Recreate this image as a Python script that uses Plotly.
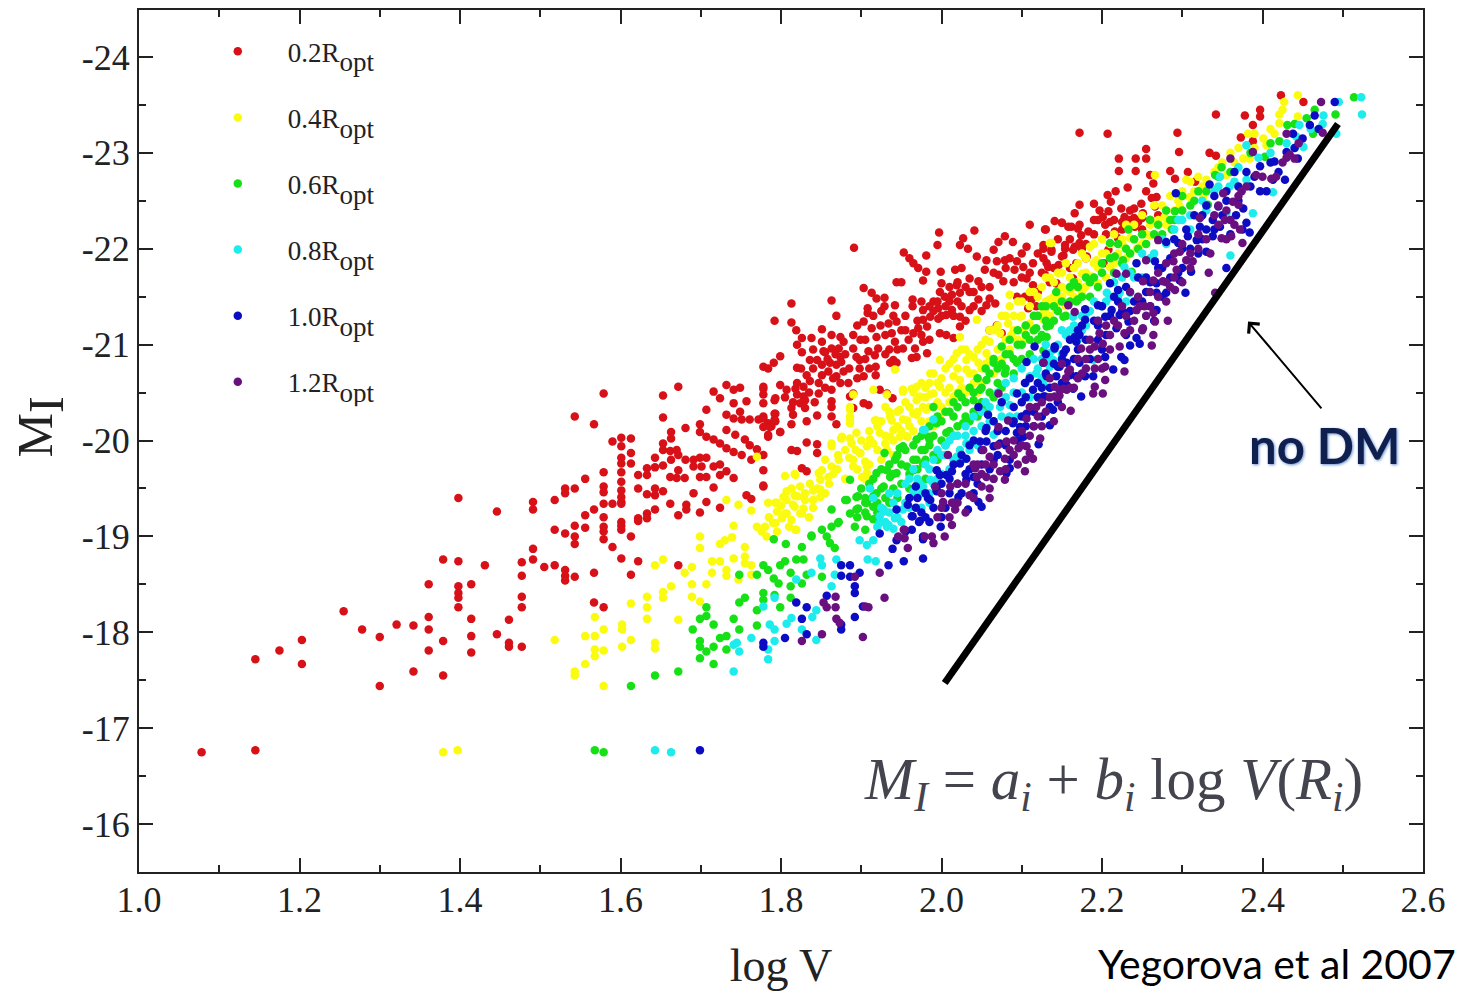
import plotly.graph_objects as go

red_points = [(1.078,-16.75),(1.145,-16.77),(1.145,-17.72),(1.175,-17.81),(1.203,-17.92),(1.203,-17.67),(1.255,-18.22),(1.278,-18.03),(1.300,-17.95),(1.300,-17.44),(1.321,-18.08),(1.342,-18.07),(1.342,-17.59),(1.361,-18.5),(1.361,-18.16),(1.361,-18.03),(1.361,-17.81),(1.379,-18.76),(1.379,-17.91),(1.379,-17.55),(1.398,-19.40),(1.398,-18.74),(1.398,-18.48),(1.398,-18.41),(1.398,-18.36),(1.398,-18.26),(1.414,-18.5),(1.414,-18.14),(1.414,-17.96),(1.414,-17.79),(1.431,-18.70),(1.446,-19.26),(1.446,-17.98),(1.461,-18.13),(1.461,-17.89),(1.461,-17.85),(1.477,-18.73),(1.477,-18.59),(1.477,-18.37),(1.477,-18.26),(1.477,-17.85),(1.491,-19.36),(1.491,-19.28),(1.491,-18.87),(1.491,-18.76),(1.505,-18.68),(1.518,-19.38),(1.518,-19.07),(1.518,-18.70),
(1.579,-20.49),(1.653,-20.47),(1.672,-20.56),(1.543,-20.25),(1.567,-20.17),(1.653,-20.24),(1.590,-19.99),(1.601,-20.03),(1.613,-20.02),(1.601,-19.94),(1.613,-19.87),(1.601,-19.82),(1.613,-19.76),(1.601,-19.76),(1.579,-19.67),(1.601,-19.67),(1.601,-19.57),(1.556,-19.6),(1.543,-19.50),(1.531,-19.5),(1.531,-19.45),(1.579,-19.52),(1.579,-19.46),(1.601,-19.48),(1.601,-19.41),(1.601,-19.36),(1.579,-19.34),(1.590,-19.34),(1.601,-19.34),(1.567,-19.28),(1.556,-19.22),(1.579,-19.20),(1.543,-19.11),(1.556,-19.09),(1.579,-19.10),(1.579,-19.05),(1.601,-19.15),(1.601,-19.11),(1.601,-19.07),(1.613,-19.0),(1.531,-19.03),(1.543,-19.0),(1.543,-18.92),(1.579,-18.97),(1.590,-18.89),(1.601,-18.77),(1.622,-18.74),(1.531,-18.65),(1.531,-18.59),(1.531,-18.54),(1.543,-18.58),(1.567,-18.62),(1.613,-18.60),(1.672,-18.70),(1.567,-18.31),(1.579,-18.26),
(1.622,-19.64),(1.633,-19.71),(1.633,-19.64),(1.643,-19.82),(1.643,-19.72),(1.653,-19.97),(1.653,-19.90),(1.653,-19.74),(1.663,-20.09),(1.663,-20.02),(1.662,-19.89),(1.670,-19.90),(1.663,-19.80),(1.672,-19.85),(1.681,-20.13),(1.699,-20.17),(1.707,-20.32),(1.716,-20.51),(1.724,-20.44),(1.732,-20.58),(1.741,-20.53),(1.749,-20.55),(1.741,-20.39),(1.757,-20.41),(1.749,-20.30),(1.732,-20.27),(1.741,-20.23),(1.751,-20.22),(1.761,-20.22),(1.772,-20.22),(1.784,-20.18),(1.699,-20.09),(1.707,-20.04),(1.716,-20.01),(1.724,-19.97),(1.732,-19.92),(1.741,-19.88),(1.751,-19.85),(1.763,-19.80),(1.732,-20.11),(1.743,-20.06),(1.755,-20.01),(1.761,-19.95),(1.770,-19.91),(1.681,-19.80),(1.691,-19.80),(1.699,-19.82),(1.707,-19.82),(1.691,-19.73),(1.701,-19.73),(1.716,-19.73),(1.724,-19.75),(1.732,-19.68),(1.741,-19.61),(1.672,-19.69),(1.662,-19.62),(1.670,-19.61),(1.680,-19.61),(1.699,-19.62),(1.707,-19.62),(1.724,-19.64),(1.622,-19.50),(1.633,-19.44),(1.643,-19.50),(1.643,-19.43),(1.653,-19.47),(1.691,-19.45),(1.716,-19.51),(1.662,-19.34),(1.682,-19.33),(1.682,-19.28),(1.672,-19.22),(1.643,-19.28),(1.633,-19.24),(1.633,-19.19),(1.622,-19.19),(1.622,-19.16),(1.699,-19.25),(1.707,-19.36),(1.724,-19.30),(1.757,-19.43),(1.763,-19.39),(1.778,-19.69),(1.778,-19.52),(1.778,-19.85),(1.778,-20.54),(1.778,-20.48),(1.778,-20.39),(1.792,-20.42),(1.792,-20.28),(1.792,-20.22),(1.784,-20.06),(1.799,-20.09),(1.788,-20.15),(1.778,-20.25),
(1.891,-22.01),(1.813,-21.43),(1.792,-21.25),(1.813,-21.23),(1.819,-21.15),(1.863,-21.46),(1.869,-21.30),(1.851,-21.16),(1.826,-21.07),(1.838,-21.07),(1.820,-21.0),(1.826,-20.92),(1.799,-20.88),(1.851,-21.03),(1.863,-21.10),(1.874,-21.08),(1.878,-21.03),(1.863,-20.96),(1.872,-20.96),(1.853,-20.93),(1.874,-20.87),(1.836,-20.84),(1.845,-20.84),(1.851,-20.79),(1.861,-20.81),(1.869,-20.79),(1.820,-20.76),(1.832,-20.68),(1.851,-20.68),(1.859,-20.72),(1.869,-20.67),(1.878,-20.72),(1.884,-20.60),(1.874,-20.60),(1.863,-20.53),(1.847,-20.60),(1.847,-20.49),(1.778,-20.77),(1.784,-20.75),(1.791,-20.81),(1.799,-20.58),(1.807,-20.53),(1.818,-20.54),(1.828,-20.56),(1.820,-20.48),(1.828,-20.46),(1.824,-20.39),(1.813,-20.34),(1.830,-20.34),(1.815,-20.27),(1.845,-20.26),(1.832,-20.20),(1.813,-20.17),(1.863,-20.41),(1.863,-20.35),(1.863,-20.25),(1.869,-20.17),(1.793,-20.44),(1.793,-20.28),(1.793,-20.20),(1.778,-20.56),(1.778,-20.23),(1.778,-20.14),(1.784,-20.04),(1.799,-20.09),(1.786,-20.14),(1.832,-19.98),(1.845,-19.96),(1.813,-19.90),(1.820,-19.89),(1.845,-19.87),(1.826,-19.71),(1.832,-19.68),(1.778,-19.53),
(1.903,-21.59),(1.913,-21.54),(1.919,-21.48),(1.929,-21.49),(1.929,-21.40),(1.942,-21.41),(1.908,-21.38),(1.908,-21.33),(1.903,-21.24),(1.913,-21.17),(1.924,-21.20),(1.934,-21.22),(1.944,-21.24),(1.919,-21.08),(1.930,-21.10),(1.938,-21.12),(1.942,-21.03),(1.899,-21.05),(1.890,-20.96),(1.894,-20.87),(1.905,-21.05),(1.909,-20.93),(1.921,-20.96),(1.917,-20.89),(1.898,-20.84),(1.898,-20.75),(1.903,-20.67),(1.918,-20.77),(1.918,-20.68),(1.940,-20.84),(1.936,-20.81),(1.944,-20.81),(1.923,-20.53),(1.932,-20.49),(1.939,-20.44),(1.903,-20.39),(1.909,-20.37),(1.890,-20.34),(1.886,-20.46),(1.890,-20.49),
(1.953,-21.96),(1.960,-21.90),(1.965,-21.85),(1.971,-21.80),(1.981,-21.76),(1.977,-21.67),(1.981,-21.93),(1.944,-21.65),(1.950,-21.65),(1.964,-21.47),(1.964,-21.40),(1.977,-21.36),(1.977,-21.26),(1.986,-21.29),(1.982,-21.19),(1.971,-21.17),(1.965,-21.12),(1.959,-21.05),(1.952,-20.96),(1.967,-20.96),(1.977,-21.03),(1.969,-20.87),(1.982,-20.91),(1.963,-20.86),
(1.997,-22.17),(1.995,-22.04),(1.999,-21.76),(2.000,-21.64),(2.017,-21.78),(2.025,-21.80),(2.023,-22.04),(2.027,-22.11),(2.033,-22.0),(2.041,-22.19),(2.044,-21.92),(2.035,-21.69),(2.046,-21.66),(1.990,-21.45),(1.998,-21.55),(2.004,-21.50),(2.019,-21.62),(2.023,-21.54),(2.035,-21.55),(2.046,-21.47),(2.013,-21.52),(1.996,-21.38),(2.013,-21.36),(2.035,-21.36),(2.023,-21.29),(1.996,-21.27),(2.006,-21.31),(1.998,-21.12),(2.006,-21.10),(2.015,-21.07),(2.023,-21.19),(2.060,-21.48),(2.067,-21.43),(2.056,-21.41),(2.060,-21.15),(2.069,-21.20),(2.075,-21.12),
(2.056,-21.88),(2.054,-21.78),(2.065,-21.99),(2.071,-22.07),(2.079,-22.13),(2.089,-22.07),(2.069,-21.87),(2.079,-21.88),(2.071,-21.73),(2.077,-21.66),(2.091,-21.78),(2.094,-21.87),(2.102,-21.81),(2.106,-22.02),(2.114,-21.85),(2.106,-21.69),(2.114,-21.62),(2.094,-21.50),(2.104,-21.50),(2.112,-21.47),(2.108,-21.38),(2.118,-21.40),(2.110,-22.25),(2.130,-22.20),(2.127,-22.0),(2.137,-21.97),(2.154,-22.0),(2.166,-22.02),(2.150,-21.92),(2.143,-21.64),(2.131,-21.85),(2.150,-22.27),(2.162,-22.23),(2.170,-22.21),
(2.172,-23.21),(2.207,-23.20),(2.294,-23.21),(2.342,-23.40),(2.378,-23.39),(2.397,-23.45),(2.397,-23.38),(2.423,-23.60),(2.451,-23.53),(2.388,-23.29),(2.373,-23.16),(2.388,-23.12),(2.255,-23.04),(2.255,-22.94),(2.242,-22.94),(2.221,-22.94),(2.221,-22.81),(2.242,-22.81),(2.296,-23.01),(2.334,-23.0),(2.342,-22.97),(2.285,-22.81),(2.291,-22.73),(2.307,-22.80),(2.260,-22.77),(2.264,-22.68),(2.316,-22.70),(2.232,-22.64),(2.217,-22.60),(2.207,-22.56),(2.255,-22.60),(2.268,-22.54),(2.172,-22.46),(2.166,-22.37),(2.190,-22.47),(2.197,-22.40),(2.211,-22.49),(2.208,-22.39),(2.201,-22.33),(2.204,-22.25),(2.224,-22.42),(2.240,-22.42),(2.249,-22.47),(2.262,-22.53),(2.266,-22.44),(2.251,-22.37),(2.228,-22.33),(2.235,-22.30),(2.245,-22.28),(2.231,-22.25),(2.241,-22.23),(2.216,-22.18),(2.220,-22.11),(2.141,-22.29),(2.150,-22.27),(2.158,-22.23),(2.172,-22.25),(2.183,-22.18),(2.174,-22.14),(2.172,-22.06),(2.164,-21.99),(2.129,-22.20),(2.154,-22.04),(2.127,-22.04),(2.137,-21.99),(2.152,-21.93),(2.127,-21.90),(2.146,-21.83),(2.181,-21.92),(2.208,-21.99),(2.168,-21.85),(2.133,-21.81),(2.129,-21.73),(2.143,-21.64),(2.164,-21.69),(2.202,-21.85),
(1.805,-20.45),(1.815,-20.4),(1.82,-20.6),(1.825,-20.75),(1.835,-20.5),(1.84,-20.75),(1.84,-20.95),(1.855,-20.55),(1.858,-20.85),(1.865,-20.65),(1.88,-20.9),(1.89,-21.1),(1.895,-21.2),(1.91,-20.75),(1.93,-20.9),(1.945,-20.95),(1.95,-21.15),(1.955,-21.3),(1.975,-21.1),(1.985,-21.05),(1.99,-21.35),(2.0,-21.3),(2.01,-21.45),(2.02,-21.45),(2.03,-21.6),(2.04,-21.4),(2.05,-21.6),(2.08,-21.8),(2.09,-21.65),(2.1,-21.7),(2.12,-21.55),(2.125,-21.75),(2.135,-21.65),(2.14,-21.8),(2.145,-22.1),(2.16,-22.1),(2.175,-22.0),(2.18,-21.9),(2.19,-22.15),(2.195,-22.3),(2.205,-22.15),(2.215,-22.3),(2.225,-22.2),(2.235,-22.4),(2.25,-22.2),(2.26,-22.3),(2.27,-22.35),
(1.83,-20.42),(1.836,-20.62),(1.842,-20.4),(1.855,-20.92),(1.868,-20.9),(1.875,-20.82),(1.885,-20.75),(1.895,-20.65),(1.905,-20.85),(1.915,-21.3),(1.925,-21.35),(1.935,-20.95),(1.94,-21.3),(1.955,-21.15),(1.97,-21.25),(1.975,-21.45),(1.985,-21.4),(1.995,-21.45),(2.005,-21.4),(2.01,-21.6),(2.015,-21.3),(2.02,-21.65),(2.025,-21.4),(2.03,-21.25),(2.04,-21.55),(2.05,-21.35),(2.06,-21.6),(2.065,-21.75),(2.085,-21.9),(2.1,-21.95),(2.11,-21.75),(2.12,-21.95),(2.16,-21.8),(2.18,-22.05),(2.19,-22.3),(2.21,-22.28),(2.225,-22.28),(2.24,-22.32),(2.25,-22.32)]

yellow_points = [(1.379,-16.75),(1.397,-16.77),(1.518,-17.92),(1.543,-17.59),(1.543,-17.55),(1.556,-17.67),(1.579,-17.44),(1.568,-18.16),(1.579,-18.03),(1.556,-17.96),(1.568,-17.96),(1.568,-17.82),(1.568,-17.75),(1.579,-17.81),(1.602,-18.08),(1.602,-18.03),(1.602,-17.85),(1.613,-17.92),(1.613,-18.30),(1.633,-18.37),(1.633,-18.26),(1.633,-18.14),(1.643,-17.89),(1.643,-17.83),(1.653,-18.42),(1.653,-18.36),(1.663,-18.48),(1.672,-18.13),(1.643,-18.70),(1.653,-18.76),(1.680,-18.62),(1.689,-18.68),(1.689,-18.50),(1.689,-18.37),(1.699,-18.32),(1.707,-18.50),(1.714,-18.62),(1.714,-18.74),(1.724,-18.74),(1.732,-18.65),(1.732,-18.59),(1.741,-18.77),(1.747,-18.55),(1.699,-19.0),(1.699,-18.88),(1.724,-18.92),(1.730,-18.96),(1.739,-18.99),(1.741,-19.11),(1.755,-18.89),(1.755,-18.79),(1.755,-18.72),(1.763,-18.70),(1.763,-18.60),(1.732,-19.38),(1.747,-19.33),(1.763,-19.27),(1.770,-19.83),(1.805,-19.63),(1.817,-19.65),(1.819,-19.07),
(1.770,-19.10),(1.776,-19.05),(1.782,-19.0),(1.780,-19.10),(1.790,-19.14),(1.801,-19.19),(1.807,-19.24),(1.795,-19.26),(1.784,-19.35),(1.795,-19.35),(1.807,-19.38),(1.817,-19.43),(1.830,-19.45),(1.807,-19.47),(1.817,-19.31),(1.828,-19.29),(1.813,-19.17),(1.826,-19.24),(1.836,-19.55),(1.849,-19.59),(1.859,-19.62),(1.849,-19.49),(1.840,-19.38),(1.851,-19.69),(1.863,-19.73),(1.855,-19.80),(1.863,-19.94),(1.875,-20.02),(1.871,-19.85),(1.888,-19.97),(1.898,-19.87),(1.890,-19.73),(1.905,-19.78),(1.907,-19.66),(1.915,-19.97),(1.932,-19.90),(1.923,-20.08),(1.940,-20.11),(1.952,-20.22),(1.936,-20.25),(1.948,-20.32),(1.969,-20.42),(1.977,-20.35),(1.958,-20.04),(1.990,-20.49),(1.985,-20.60),(1.886,-20.32),(1.886,-20.22),(1.890,-20.48),(1.915,-20.53),(1.952,-20.51),(1.932,-20.48),(1.965,-20.28),
(1.818,-19.64),(1.793,-19.35),(1.803,-19.41),(1.813,-19.50),(1.824,-19.52),(1.828,-19.41),(1.805,-19.24),(1.824,-19.24),(1.793,-19.14),(1.818,-19.07),(1.840,-19.48),(1.849,-19.41),(1.847,-19.66),(1.872,-19.80),(1.863,-19.97),(1.876,-20.04),(1.886,-20.02),(1.894,-20.08),(1.911,-20.01),(1.899,-19.87),(1.907,-19.94),(1.890,-19.80),(1.907,-19.73),(1.901,-19.62),(1.886,-20.25),(1.886,-20.35),(1.886,-20.18),(1.919,-20.21),(1.930,-20.35),(1.938,-20.21),(1.946,-20.14),(1.936,-20.04),(1.948,-20.04),(1.930,-19.97),(1.957,-20.21),(1.969,-20.27),(1.981,-20.32),(1.998,-20.25),(1.973,-20.46),(1.986,-20.48),(1.998,-20.56),(1.969,-20.56),(1.952,-20.53),(1.963,-20.54),(2.015,-20.46),(2.023,-20.63),(2.031,-20.74),(2.015,-20.67),(2.044,-20.63),(2.046,-20.81),(2.040,-20.87),(2.056,-20.91),(2.031,-20.84),(2.019,-20.91),(1.998,-20.84),(1.986,-20.70),(2.023,-21.08),(2.044,-21.26),(2.060,-21.03),(2.073,-21.12),(2.083,-21.22),(2.098,-21.29),(2.087,-21.10),(2.102,-21.15),(2.110,-21.22),(2.085,-21.52),(2.135,-21.43),(2.143,-21.38),(2.127,-21.33),(2.156,-21.57),(2.168,-21.60),(2.135,-22.06),(1.942,-20.74),(1.917,-20.21),
(2.444,-23.60),(2.427,-23.53),(2.421,-23.40),(2.421,-23.31),(2.444,-23.38),(2.382,-23.20),(2.401,-23.15),(2.405,-23.08),(2.376,-22.94),(2.384,-22.94),(2.266,-22.77),(2.330,-22.72),(2.355,-22.77),(2.305,-22.72),(2.326,-22.54),(2.309,-22.54),(2.297,-22.44),(2.278,-22.33),(2.266,-22.27),(2.260,-22.14),(2.235,-22.11),(2.243,-22.0),(2.226,-22.04),(2.210,-21.81),(2.185,-22.02),(2.193,-21.88),(2.187,-21.71),(2.175,-21.74),(2.195,-21.64),(2.150,-21.50),(2.135,-21.47),(2.143,-21.36),(2.129,-21.36),(2.154,-21.43),(2.137,-22.06),(2.127,-21.26),(2.179,-21.60),
(1.785,-19.2),(1.795,-19.05),(1.80,-19.32),(1.81,-19.1),(1.815,-19.33),(1.82,-19.42),(1.83,-19.38),(1.835,-19.2),(1.84,-19.3),(1.845,-19.5),(1.855,-19.45),(1.86,-19.55),(1.865,-19.65),(1.87,-19.7),(1.88,-19.6),(1.88,-19.9),(1.885,-19.82),(1.893,-19.9),(1.895,-19.7),(1.90,-20.0),(1.905,-19.6),(1.91,-20.1),(1.92,-19.9),(1.925,-20.2),(1.93,-20.05),(1.94,-20.0),(1.945,-20.3),(1.95,-20.1),(1.955,-20.4),(1.96,-20.15),(1.965,-20.5),(1.97,-20.3),(1.975,-20.6),(1.98,-20.45),(1.985,-20.2),(1.99,-20.7),(1.995,-20.4),(2.0,-20.65),(2.005,-20.5),(2.01,-20.8),(2.01,-20.55),(2.02,-20.75),(2.025,-20.55),(2.03,-20.95),(2.035,-20.7),(2.04,-20.6),(2.045,-20.95),(2.05,-20.75),(2.055,-21.05),(2.06,-20.85),(2.065,-21.15),(2.07,-20.95),(2.075,-21.3),(2.08,-21.05),(2.085,-21.4),(2.09,-21.15),(2.095,-21.45),(2.10,-21.3),(2.105,-21.05),(2.11,-21.4),(2.115,-21.55),(2.12,-21.3),(2.125,-21.6),(2.13,-21.45),(2.135,-21.7),(2.14,-21.5),(2.145,-21.75),(2.15,-21.6),(2.155,-21.85),(2.16,-21.55),(2.165,-21.8),(2.17,-21.65),(2.175,-21.95),(2.18,-21.75),(2.19,-22.05),(2.195,-21.8),(2.2,-22.1),(2.205,-21.95),(2.215,-22.15),(2.22,-21.95),(2.23,-22.25),(2.24,-22.1),(2.25,-22.35),(2.255,-22.15),(2.265,-22.45),(2.27,-22.3),(2.285,-22.55),(2.29,-22.4),(2.30,-22.6),(2.315,-22.6),(2.32,-22.75),(2.34,-22.8),(2.35,-22.9),(2.365,-22.9),(2.39,-23.05),(2.39,-23.2),(2.41,-23.25),(2.415,-23.2),(2.425,-23.45),
(1.91,-19.75),(1.92,-20.15),(1.925,-19.8),(1.935,-20.3),(1.94,-19.85),(1.945,-20.15),(1.955,-20.05),(1.96,-20.35),(1.965,-20.1),(1.975,-20.2),(1.98,-20.55),(1.985,-20.35),(1.99,-20.15),(1.995,-20.6),(2.0,-20.35),(2.005,-20.75),(2.01,-20.4),(2.015,-20.85),(2.02,-20.5),(2.025,-20.95),(2.03,-20.5),(2.035,-20.9),(2.04,-20.7),(2.045,-20.5),(2.05,-21.0),(2.05,-20.6),(2.055,-20.8),(2.06,-21.15),(2.065,-20.7),(2.07,-21.2),(2.075,-20.85),(2.08,-21.3),(2.085,-20.95),(2.09,-21.3),(2.095,-21.05),(2.10,-21.45),(2.105,-21.2),(2.11,-21.55),(2.115,-21.15),(2.12,-21.5),(2.125,-21.3),(2.13,-21.7),(2.135,-21.3),(2.14,-21.65),(2.145,-21.45),(2.15,-21.75),(2.155,-21.4),(2.16,-21.7),(2.165,-21.5),(2.17,-21.85),(2.175,-21.55),(2.18,-21.9),(2.185,-21.65),(2.19,-21.85),(2.2,-21.95),(2.205,-21.7),(2.21,-22.05),(2.215,-21.85),(2.225,-22.1),(2.23,-21.9),(2.24,-22.25),(2.25,-22.05),(2.26,-22.25),(2.275,-22.45),(2.28,-22.25),(2.295,-22.5),(2.31,-22.7),(2.325,-22.65),(2.335,-22.65),(2.345,-22.85),(2.36,-23.0),(2.37,-23.05)]

green_points = [(1.568,-16.77),(1.579,-16.75),(1.613,-17.44),(1.643,-17.55),(1.672,-17.59),(1.707,-18.26),(1.699,-18.14),(1.707,-18.17),(1.690,-18.03),(1.716,-18.08),(1.699,-17.91),(1.699,-17.85),(1.699,-17.73),(1.707,-17.80),(1.716,-17.85),(1.716,-17.67),(1.724,-17.94),(1.732,-17.96),(1.732,-17.82),(1.741,-18.14),(1.748,-18.03),(1.748,-18.31),(1.755,-18.36),(1.748,-18.60),(1.770,-18.60),(1.778,-18.41),(1.778,-18.34),(1.770,-18.23),(1.770,-18.07),(1.799,-18.26),(1.792,-18.39),(1.778,-18.70),(1.784,-18.65),(1.791,-18.56),(1.797,-18.51),(1.799,-18.70),(1.805,-18.74),(1.812,-18.62),(1.812,-18.48),(1.812,-18.36),(1.826,-18.51),(1.819,-18.76),(1.828,-18.76),(1.832,-18.60),(1.851,-18.58),(1.826,-18.89),(1.806,-18.92),(1.791,-18.97),(1.838,-19.0),(1.851,-19.07),(1.857,-19.0),(1.861,-18.93),(1.867,-18.88),(1.863,-19.28),(1.863,-19.10),(1.871,-19.14),(1.886,-19.59),(1.882,-19.38),(1.892,-19.10),(1.905,-19.07),(1.886,-19.24),(1.896,-19.42),(1.896,-19.29),(1.907,-19.35),(1.915,-19.42),(1.907,-19.21),(1.919,-19.66),(1.929,-19.87),(1.944,-19.83),(1.952,-19.94),(1.932,-19.69),(1.944,-19.66),(1.969,-19.80),(1.979,-19.90),(1.990,-20.35),(1.965,-19.69),(1.985,-20.01),
(1.838,-19.01),(1.872,-19.15),(1.880,-19.38),(1.894,-19.41),(1.894,-19.28),(1.905,-19.35),(1.915,-19.31),(1.936,-19.62),(1.942,-19.80),(1.948,-19.92),(1.957,-19.73),(1.969,-20.01),(1.977,-19.76),(1.984,-20.04),(1.994,-20.18),(2.006,-20.08),(2.015,-20.25),(2.021,-20.49),(2.027,-20.18),(2.040,-20.42),(2.048,-20.53),(2.056,-20.63),(2.065,-20.81),(2.075,-20.98),(2.079,-20.70),(2.094,-20.81),(2.118,-21.17),(2.131,-21.08),(2.143,-21.55),(2.168,-21.45),(1.919,-19.45),(1.928,-19.52),
(2.514,-23.58),(2.491,-23.40),(2.465,-23.45),(2.455,-23.36),(2.463,-23.20),(2.431,-23.29),(2.421,-23.12),(2.403,-22.96),(2.349,-22.85),(2.341,-22.77),(2.233,-22.20),(2.210,-22.06),(2.291,-22.39),(2.287,-22.20),(2.332,-22.46),(2.226,-21.88),(2.237,-21.76),(2.170,-21.47),(2.185,-21.50),(2.131,-21.19),(2.152,-21.29),(2.125,-21.08),(2.127,-20.94),(2.216,-21.92),
(1.895,-19.2),(1.9,-19.5),(1.905,-19.25),(1.91,-19.55),(1.915,-19.18),(1.92,-19.35),(1.925,-19.7),(1.93,-19.4),(1.935,-19.75),(1.94,-19.5),(1.945,-19.85),(1.95,-19.55),(1.955,-19.9),(1.96,-19.65),(1.965,-19.95),(1.97,-19.7),(1.975,-20.05),(1.98,-19.8),(1.985,-20.15),(1.99,-19.85),(1.995,-20.25),(2.0,-20.0),(2.005,-20.3),(2.01,-20.1),(2.015,-20.4),(2.02,-20.15),(2.025,-20.45),(2.03,-20.25),(2.035,-20.55),(2.04,-20.3),(2.045,-20.65),(2.05,-20.4),(2.055,-20.75),(2.06,-20.5),(2.065,-20.85),(2.07,-20.6),(2.075,-20.8),(2.08,-20.9),(2.085,-21.05),(2.09,-20.85),(2.095,-21.15),(2.1,-21.0),(2.105,-21.2),(2.11,-21.05),(2.115,-21.3),(2.12,-21.05),(2.125,-21.4),(2.13,-21.25),(2.14,-21.4),(2.15,-21.45),(2.16,-21.6),(2.17,-21.6),(2.18,-21.7),(2.19,-21.7),(2.2,-21.85),(2.21,-21.9),(2.22,-22.05),(2.23,-22.0),(2.24,-22.1),(2.25,-22.15),(2.26,-22.3),(2.27,-22.25),(2.28,-22.4),(2.29,-22.3),(2.30,-22.55),(2.31,-22.45),(2.32,-22.6),(2.33,-22.6),(2.345,-22.75),(2.36,-22.8),(2.385,-23.0),(2.41,-23.1),(2.44,-23.3),
(1.905,-19.4),(1.915,-19.6),(1.92,-19.25),(1.925,-19.5),(1.935,-19.35),(1.94,-19.65),(1.945,-19.4),(1.95,-19.75),(1.96,-19.5),(1.965,-19.8),(1.97,-19.55),(1.975,-19.9),(1.98,-19.6),(1.985,-19.95),(1.99,-20.05),(1.995,-19.8),(2.0,-20.2),(2.005,-19.95),(2.01,-20.3),(2.015,-20.05),(2.02,-20.35),(2.03,-20.4),(2.035,-20.2),(2.04,-20.5),(2.045,-20.25),(2.05,-20.55),(2.055,-20.35),(2.06,-20.7),(2.065,-20.45),(2.07,-20.75),(2.075,-20.55),(2.08,-20.75),(2.085,-20.9),(2.09,-20.7),(2.095,-21.0),(2.1,-20.85),(2.105,-21.1),(2.11,-20.9),(2.115,-21.15),(2.12,-21.3),(2.125,-21.1),(2.13,-21.4),(2.135,-21.2),(2.14,-21.25),(2.145,-21.35),(2.155,-21.3),(2.16,-21.45),(2.165,-21.65),(2.175,-21.5),(2.185,-21.65),(2.195,-21.6),(2.2,-21.75),(2.215,-21.75),(2.225,-21.85),(2.235,-21.95),(2.245,-22.0),(2.255,-22.05),(2.265,-22.15),(2.275,-22.15),(2.285,-22.3),(2.30,-22.4),(2.315,-22.5)]

cyan_points = [(1.643,-16.77),(1.663,-16.75),(1.741,-17.59),(1.745,-17.89),(1.748,-17.80),(1.741,-17.87),(1.763,-17.94),(1.792,-17.91),(1.784,-17.82),(1.784,-17.72),(1.786,-18.08),(1.792,-18.03),(1.778,-18.27),(1.792,-18.36),(1.807,-18.09),(1.813,-18.15),(1.826,-18.03),(1.839,-18.16),(1.844,-18.23),(1.844,-17.92),(1.819,-18.55),(1.838,-18.62),(1.849,-18.77),(1.851,-18.70),(1.863,-18.48),(1.869,-18.76),(1.867,-18.60),(1.898,-18.96),(1.907,-18.91),(1.915,-18.96),(1.908,-18.76),(1.918,-18.74),(1.923,-19.14),(1.923,-19.21),(1.932,-19.10),(1.929,-19.26),(1.942,-19.19),(1.911,-19.50),(1.952,-19.28),(1.965,-19.47),(1.973,-19.55),(1.979,-20.11),(1.990,-20.22),(1.985,-19.35),
(1.934,-19.12),(1.940,-19.08),(1.928,-19.28),(1.969,-19.41),(1.977,-19.52),(1.977,-20.11),(1.986,-19.59),(2.023,-19.90),(2.031,-19.97),(2.019,-19.83),(2.065,-20.06),(2.073,-20.35),(2.085,-20.37),(2.094,-20.25),(2.110,-20.67),(2.118,-20.70),(2.139,-20.84),(2.135,-20.77),(2.164,-21.29),
(2.523,-23.58),(2.524,-23.40),(2.495,-23.53),(2.476,-23.39),(2.492,-23.20),(2.446,-23.29),(2.451,-23.06),(2.442,-23.17),(2.413,-22.59),(2.388,-22.37),(2.360,-21.93),(2.380,-23.08),(2.380,-22.72),(2.359,-22.65),(2.347,-22.75),(2.228,-21.81),(2.222,-21.54),(2.235,-21.54),(2.206,-21.54),(2.355,-22.37),(2.189,-20.84),(2.181,-21.33),(2.135,-20.91),(2.127,-20.60),(2.168,-21.15),
(1.915,-19.4),(1.92,-19.1),(1.925,-19.3),(1.935,-19.25),(1.94,-19.35),(1.945,-19.45),(1.95,-19.15),(1.955,-19.35),(1.96,-19.6),(1.965,-19.7),(1.975,-19.45),(1.98,-19.75),(1.985,-19.45),(1.99,-19.8),(1.995,-19.6),(2.0,-19.85),(2.005,-19.85),(2.01,-20.0),(2.015,-19.8),(2.02,-20.05),(2.03,-20.15),(2.035,-19.9),(2.04,-20.25),(2.05,-20.15),(2.055,-20.4),(2.06,-20.2),(2.07,-20.5),(2.08,-20.6),(2.09,-20.5),(2.10,-20.75),(2.105,-20.6),(2.115,-20.85),(2.125,-20.85),(2.13,-21.0),(2.145,-21.0),(2.15,-21.15),(2.155,-21.1),(2.165,-21.2),(2.175,-21.3),(2.18,-21.2),(2.19,-21.45),(2.2,-21.4),(2.21,-21.5),(2.215,-21.65),(2.225,-21.7),(2.24,-21.7),(2.25,-21.95),(2.26,-21.9),(2.275,-22.1),(2.29,-22.2),(2.30,-22.3),(2.31,-22.35),(2.325,-22.5),(2.34,-22.6),(2.365,-22.7),(2.37,-22.85),(2.395,-22.95),(2.41,-23.0),(2.43,-23.1),(2.44,-23.05),(2.46,-23.25),(2.475,-23.3),
(1.93,-19.15),(1.935,-19.45),(1.945,-19.2),(1.955,-19.55),(1.96,-19.3),(1.97,-19.6),(1.975,-19.3),(1.985,-19.7),(1.99,-19.55),(1.995,-19.9),(2.0,-19.65),(2.005,-19.95),(2.01,-19.7),(2.015,-20.05),(2.025,-19.8),(2.03,-20.05),(2.04,-20.1),(2.045,-19.95),(2.05,-20.3),(2.06,-20.35),(2.065,-20.2),(2.075,-20.25),(2.08,-20.45),(2.085,-20.25),(2.09,-20.65),(2.1,-20.5),(2.11,-20.45),(2.12,-20.75),(2.125,-20.65),(2.135,-20.85),(2.14,-20.95),(2.15,-20.9),(2.16,-21.15),(2.17,-21.05),(2.175,-21.15),(2.185,-21.35),(2.195,-21.25),(2.205,-21.45),(2.22,-21.5),(2.23,-21.45),(2.235,-21.75),(2.25,-21.7),(2.265,-21.95),(2.28,-22.05),(2.295,-22.3),(2.31,-22.2),(2.33,-22.4),(2.345,-22.65)]

blue_points = [(1.699,-16.77),(1.778,-17.89),(1.778,-17.85),(1.805,-17.94),(1.832,-17.98),(1.826,-18.14),(1.832,-18.26),(1.819,-18.31),(1.857,-18.38),(1.875,-18.08),(1.875,-18.03),(1.892,-18.16),(1.902,-18.27),(1.892,-18.48),(1.892,-18.41),(1.875,-18.70),(1.886,-18.70),(1.875,-18.59),(1.886,-18.58),(1.898,-18.62),(1.934,-18.70),(1.953,-18.74),(1.977,-18.77),(1.923,-19.03),(1.939,-18.87),(1.944,-18.96),(1.944,-19.28),(1.958,-19.33),(1.968,-19.52),(1.968,-19.30),(1.963,-19.21),(1.973,-19.16),(1.963,-19.07),(1.983,-19.40),(1.994,-19.49),(1.994,-19.69),(1.977,-18.97),
(1.964,-19.21),(1.972,-19.15),(1.977,-19.0),(1.999,-19.10),(1.986,-19.38),(1.994,-19.47),(1.998,-19.64),(2.006,-19.64),(2.013,-19.68),(2.023,-19.76),(2.031,-19.81),(2.040,-20.0),(2.046,-20.35),(2.058,-20.27),(2.056,-20.13),(2.048,-19.99),(2.056,-19.99),(2.031,-19.59),(2.040,-19.62),(2.021,-19.41),(2.046,-19.36),(2.033,-19.28),(2.050,-19.31),(2.085,-19.71),(2.081,-19.66),(2.065,-19.94),(2.073,-19.97),(2.121,-19.96),(2.094,-20.08),(2.102,-20.04),(2.094,-20.49),(2.104,-20.60),(2.106,-20.82),(2.116,-20.98),(2.114,-20.53),(2.127,-20.81),(2.141,-20.96),(2.145,-20.77),(2.156,-20.81),(2.166,-21.08),(2.168,-20.67),(2.127,-20.46),(2.139,-20.32),(2.135,-20.16),(2.125,-20.25),(2.089,-20.18),(2.098,-20.14),(2.106,-20.28),
(2.490,-23.53),(2.465,-23.39),(2.459,-23.29),(2.438,-23.20),(2.430,-23.01),(2.444,-22.94),(2.415,-22.91),(2.397,-22.86),(2.380,-22.80),(2.365,-22.80),(2.428,-22.72),(2.413,-22.72),(2.405,-22.60),(2.397,-22.60),(2.292,-22.58),(2.384,-22.17),(2.380,-22.27),(2.355,-21.80),(2.304,-21.54),(2.334,-22.67),(2.345,-22.44),(2.376,-22.42),(2.367,-22.35),(2.347,-22.23),(2.338,-22.30),(2.330,-22.20),(2.338,-22.13),(2.322,-22.23),(2.307,-22.13),(2.318,-22.09),(2.330,-21.97),(2.295,-22.06),(2.280,-22.07),(2.266,-21.87),(2.243,-21.85),(2.297,-21.67),(2.311,-21.76),(2.268,-21.64),(2.255,-21.55),(2.268,-21.54),(2.280,-21.54),(2.210,-21.64),(2.220,-21.57),(2.195,-21.41),(2.179,-21.37),(2.179,-21.26),(2.212,-21.36),(2.204,-21.29),(2.222,-21.31),(2.218,-21.17),(2.233,-21.24),(2.243,-21.07),(2.247,-21.01),(2.235,-20.99),(2.172,-21.10),(2.168,-21.03),(2.141,-20.98),(2.152,-20.91),(2.172,-20.81),(2.147,-20.77),(2.160,-20.68),(2.179,-20.67),(2.189,-20.67),(2.214,-20.74),(2.204,-20.87),(2.224,-20.87),(2.228,-20.84),(2.131,-20.67),(2.143,-20.67),(2.156,-20.58),(2.129,-20.46),(2.174,-20.46),(2.164,-20.54),(2.268,-21.36),
(1.975,-19.25),(1.98,-19.45),(1.985,-19.15),(1.99,-19.3),(2.0,-19.55),(2.005,-19.3),(2.01,-19.45),(2.015,-19.75),(2.02,-19.55),(2.025,-19.85),(2.03,-19.65),(2.035,-19.95),(2.04,-19.45),(2.05,-19.75),(2.055,-20.1),(2.06,-19.7),(2.065,-20.2),(2.07,-19.85),(2.075,-20.4),(2.08,-20.1),(2.085,-19.8),(2.09,-20.35),(2.095,-20.0),(2.10,-20.4),(2.105,-20.15),(2.11,-20.65),(2.115,-20.3),(2.12,-20.6),(2.125,-20.55),(2.13,-20.9),(2.135,-20.55),(2.14,-20.8),(2.145,-20.4),(2.15,-20.6),(2.155,-20.95),(2.16,-21.05),(2.165,-20.85),(2.17,-20.95),(2.175,-21.2),(2.18,-21.05),(2.19,-21.25),(2.195,-21.05),(2.2,-21.4),(2.205,-21.1),(2.215,-21.5),(2.225,-21.35),(2.23,-21.6),(2.24,-21.45),(2.245,-21.7),(2.255,-21.7),(2.26,-21.4),(2.27,-21.8),(2.275,-21.5),(2.285,-21.7),(2.29,-22.1),(2.30,-21.8),(2.305,-22.2),(2.31,-22.0),(2.315,-22.35),(2.325,-22.1),(2.33,-22.45),(2.34,-22.55),(2.35,-22.35),(2.355,-22.6),(2.37,-22.65),(2.375,-22.2),(2.39,-22.75),(2.41,-22.9),(2.42,-22.8),(2.44,-23.05),(2.45,-23.15),(2.47,-23.25),
(1.955,-19.05),(1.96,-19.4),(1.97,-19.4),(1.98,-19.2),(2.0,-19.2),(2.01,-19.6),(2.015,-19.35),(2.025,-19.45),(2.035,-19.7),(2.045,-19.55),(2.05,-19.9),(2.065,-19.8),(2.07,-20.1),(2.08,-19.95),(2.09,-20.2),(2.1,-20.25),(2.105,-20.45),(2.115,-20.15),(2.12,-20.45),(2.13,-20.7),(2.135,-20.35),(2.15,-20.85),(2.155,-20.55),(2.16,-20.7),(2.17,-21.15),(2.185,-20.85),(2.195,-21.2),(2.2,-20.95),(2.21,-21.3),(2.22,-21.45),(2.23,-21.1),(2.235,-21.35),(2.25,-21.45),(2.26,-21.65),(2.265,-21.25),(2.275,-21.8),(2.285,-21.9),(2.295,-21.75),(2.3,-22.0),(2.32,-21.95),(2.325,-22.35),(2.34,-22.2),(2.355,-22.5),(2.36,-22.15),(2.37,-22.5),(2.385,-22.65)]

purple_points = [(1.902,-17.95),(1.851,-17.98),(1.826,-17.91),(1.869,-18.14),(1.873,-18.10),(1.853,-18.31),(1.857,-18.26),(1.868,-18.37),(1.868,-18.26),(1.905,-18.27),(1.909,-18.26),(1.929,-18.36),(1.923,-18.62),(1.892,-18.58),(1.954,-19.07),(1.954,-18.98),(1.958,-18.88),(1.990,-18.93),(1.979,-19.0),
(1.953,-19.07),(1.946,-19.0),(1.988,-19.0),(2.013,-19.12),(2.004,-19.0),(1.992,-19.52),(2.002,-19.36),(2.011,-19.52),(2.013,-19.35),(2.017,-19.28),(2.008,-19.85),(2.035,-19.43),(2.050,-19.52),(2.060,-19.50),(2.060,-19.40),(2.042,-19.71),(2.056,-19.62),(2.044,-19.62),(2.079,-19.81),(2.073,-19.68),(2.079,-19.59),(2.104,-19.68),(2.052,-19.90),(2.060,-19.83),(2.071,-20.14),(2.083,-20.21),(2.081,-19.99),(2.096,-19.92),(2.106,-19.94),(2.110,-19.87),(2.114,-19.81),(2.123,-20.02),(2.106,-20.23),(2.110,-20.35),(2.118,-20.35),(2.071,-20.49),(2.147,-20.53),(2.156,-20.53),(2.141,-20.46),(2.161,-20.31),(2.160,-20.74),(2.158,-21.41),(2.166,-21.34),
(2.473,-23.53),(2.475,-23.21),(2.430,-23.20),(2.388,-23.01),(2.360,-22.94),(2.434,-22.98),(2.440,-22.94),(2.392,-22.77),(2.411,-22.73),(2.417,-22.75),(2.351,-22.58),(2.374,-22.60),(2.363,-22.49),(2.370,-22.46),(2.372,-22.20),(2.361,-22.13),(2.375,-22.06),(2.349,-22.11),(2.333,-21.75),(2.341,-21.54),(2.322,-22.32),(2.353,-22.30),(2.270,-22.09),(2.297,-21.97),(2.289,-21.87),(2.305,-21.88),(2.293,-21.78),(2.313,-21.87),(2.255,-21.88),(2.218,-21.74),(2.230,-21.74),(2.251,-21.66),(2.264,-21.67),(2.276,-21.66),(2.291,-21.57),(2.280,-21.45),(2.282,-21.25),(2.264,-21.10),(2.262,-20.99),(2.247,-21.40),(2.243,-21.36),(2.264,-21.33),(2.266,-21.24),(2.251,-21.17),(2.253,-21.40),(2.228,-21.12),(2.222,-20.98),(2.197,-21.12),(2.185,-21.05),(2.191,-20.98),(2.201,-21.01),(2.174,-20.96),(2.228,-20.72),(2.204,-20.77),(2.191,-20.75),(2.158,-20.72),(2.204,-20.63),(2.191,-20.56),(2.201,-20.49),(2.189,-20.49),(2.147,-20.47),(2.141,-20.56),(2.127,-20.81),(2.152,-20.54),
(1.995,-19.2),(2.0,-19.45),(2.01,-19.2),(2.02,-19.35),(2.03,-19.55),(2.04,-19.4),(2.045,-19.75),(2.055,-19.75),(2.065,-19.6),(2.07,-19.95),(2.085,-19.9),(2.09,-20.0),(2.095,-19.75),(2.10,-20.1),(2.105,-19.8),(2.115,-20.15),(2.12,-20.25),(2.125,-20.4),(2.13,-20.3),(2.135,-20.65),(2.14,-20.2),(2.145,-20.45),(2.15,-20.8),(2.155,-20.65),(2.165,-20.55),(2.17,-20.85),(2.175,-20.7),(2.18,-20.85),(2.185,-20.95),(2.195,-21.25),(2.205,-21.2),(2.21,-21.1),(2.215,-21.25),(2.225,-21.4),(2.23,-21.3),(2.235,-21.55),(2.24,-21.25),(2.245,-21.5),(2.255,-21.3),(2.26,-21.55),(2.27,-21.75),(2.28,-21.85),(2.285,-21.6),(2.29,-21.95),(2.30,-22.05),(2.31,-21.95),(2.32,-22.15),(2.33,-22.1),(2.34,-22.35),(2.345,-22.25),(2.355,-22.1),(2.36,-22.3),(2.37,-22.55),(2.38,-22.65),(2.40,-22.75),(2.425,-22.9),(2.43,-22.95),(2.445,-23.1),
(2.0,-19.3),(2.02,-19.55),(2.03,-19.25),(2.04,-19.75),(2.05,-19.65),(2.065,-19.75),(2.08,-19.7),(2.09,-19.85),(2.1,-19.95),(2.11,-20.05),(2.125,-20.15),(2.135,-20.45),(2.15,-20.35),(2.16,-20.55),(2.17,-20.65),(2.18,-20.75),(2.195,-20.85),(2.2,-20.75),(2.21,-20.95),(2.22,-21.2),(2.235,-21.15),(2.25,-21.15),(2.26,-21.4),(2.27,-21.5),(2.28,-21.65),(2.29,-21.7),(2.3,-21.65),(2.31,-21.8),(2.32,-22.0),(2.335,-21.95),(2.345,-22.45),(2.355,-22.4),(2.365,-22.25)]

series_radii = ["0.2", "0.4", "0.6", "0.8", "1.0", "1.2"]
series_points = [red_points, yellow_points, green_points, cyan_points, blue_points, purple_points]
series_colors = ["#d81018", "#fbfb10", "#16e016", "#1cecec", "#0c0cc4", "#6a0f80"]

no_dm_logv = [2.004, 2.494]
no_dm_mag = [-17.47, -23.30]

x_ticks = [1.0, 1.2, 1.4, 1.6, 1.8, 2.0, 2.2, 2.4, 2.6]
x_labels = ["1.0", "1.2", "1.4", "1.6", "1.8", "2.0", "2.2", "2.4", "2.6"]
y_ticks = [-24, -23, -22, -21, -20, -19, -18, -17, -16]
y_labels = ["-24", "-23", "-22", "-21", "-20", "-19", "-18", "-17", "-16"]

SERIF = "Liberation Serif"
INK = "#222222"
fig = go.Figure()
for radius, pts, color in zip(series_radii, series_points, series_colors):
    name = radius + "R<sub><sub><span style='font-size:27px'>opt</span></sub></sub>"
    fig.add_trace(go.Scatter(x=[p[0] for p in pts], y=[p[1] for p in pts], mode="markers", name=name,
                             legendgroup=radius, marker=dict(size=8.5, color=color, line=dict(width=0))))
fig.add_trace(go.Scatter(x=no_dm_logv, y=no_dm_mag, mode="lines", showlegend=False,
                         line=dict(color="#000000", width=7)))

axis_common = dict(showgrid=False, zeroline=False, showline=True, linecolor=INK, linewidth=2, mirror="ticks",
                   ticks="inside", ticklen=14, tickwidth=2, tickcolor=INK, tickmode="array", automargin=False,
                   tickfont=dict(family=SERIF, size=36, color=INK))
fig.update_xaxes(range=[1.0, 2.6], tickvals=x_ticks, ticktext=x_labels, ticklabelstandoff=-5,
                 minor=dict(dtick=0.1, ticks="inside", ticklen=7, tickwidth=2, tickcolor=INK, showgrid=False),
                 title=dict(text="log V", font=dict(family=SERIF, size=46, color=INK), standoff=30), **axis_common)
fig.update_yaxes(range=[-15.5, -24.49], tickvals=y_ticks, ticktext=y_labels,
                 minor=dict(dtick=0.5, ticks="inside", ticklen=7, tickwidth=2, tickcolor=INK, showgrid=False),
                 **axis_common)

fig.update_layout(
    width=1462, height=994, margin=dict(l=139, r=39, t=10, b=122), plot_bgcolor="white", paper_bgcolor="white",
    legend=dict(x=0.038, y=0.98, xanchor="left", yanchor="top", bgcolor="rgba(0,0,0,0)", itemwidth=90,
                tracegroupgap=28, font=dict(family=SERIF, size=27, color=INK), itemclick=False),
    annotations=[
        dict(x=2.382, y=-21.24, ax=2.475, ay=-20.32, xref="x", yref="y", axref="x", ayref="y", text="", showarrow=True,
             arrowhead=4, arrowsize=1.4, arrowwidth=2, arrowcolor="#000000"),
        dict(x=2.477, y=-19.95, xref="x", yref="y", text="<b>no DM</b>", showarrow=False,
             font=dict(family="Lato", size=49, color="#10204e", shadow="1px 1px 3px #6a90d0")),
        dict(x=2.214, y=-16.43, xref="x", yref="y", showarrow=False,
             text="<i>M<sub>I</sub></i> = <i>a<sub>i</sub></i> + <i>b<sub>i</sub></i> log <i>V</i>(<i>R<sub>i</sub></i>)",
             font=dict(family=SERIF, size=59, color="#44444f")),
        dict(x=1.0272, y=-0.0755, xref="paper", yref="paper", xanchor="right", yanchor="top", showarrow=False,
             text="Yegorova et al 2007", font=dict(family="Lato", size=41, color="#000000")),
        dict(x=-0.1045, y=0.516, xref="paper", yref="paper", showarrow=False, textangle=-90,
             text="M<sub><span style='font-size:50px'>I</span></sub>", font=dict(family=SERIF, size=50, color=INK)),
    ],
)
fig.write_html("out.html", config=dict(displayModeBar=False), post_script="document.body.style.margin='0';")
